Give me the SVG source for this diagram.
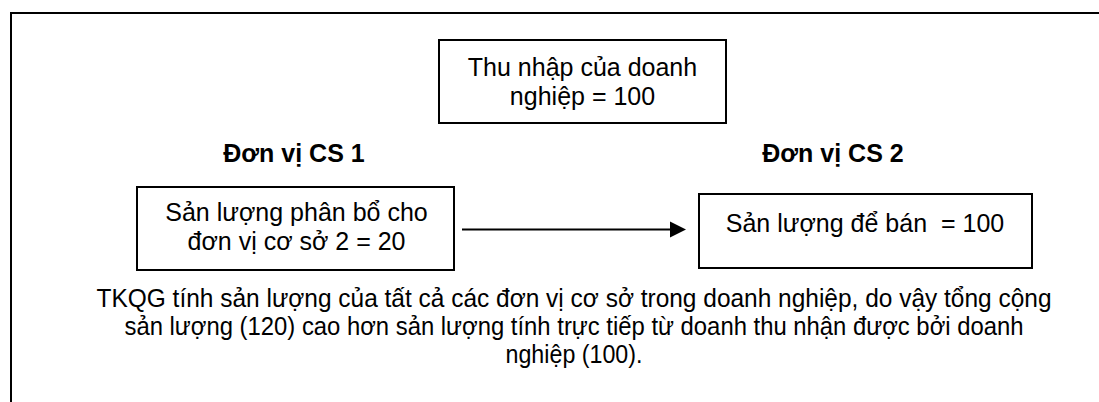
<svg xmlns="http://www.w3.org/2000/svg" width="1099" height="402" viewBox="0 0 1099 402">
  <defs>
    <style>
      .box { fill: #ffffff; stroke: #000000; stroke-width: 2; }
      .txt { font-family: "Liberation Sans", Arial, sans-serif; font-size: 25px; fill: #000000; text-anchor: middle; }
      .hdr { font-family: "Liberation Sans", Arial, sans-serif; font-size: 25px; font-weight: bold; fill: #000000; text-anchor: middle; }
      .conn { stroke: #000000; stroke-width: 2; fill: none; }
    </style>
    <marker id="arrow" markerWidth="8" markerHeight="8" refX="7.5" refY="4" orient="auto" markerUnits="userSpaceOnUse" viewBox="0 0 8 8">
      <path d="M0,0 L8,4 L0,8 Z" fill="#000000"/>
    </marker>
  </defs>

  <rect width="1099" height="402" fill="#ffffff"/>

  <!-- outer frame, open to the right and bottom -->
  <rect x="11" y="13" width="1200" height="500" fill="none" stroke="#000000" stroke-width="2"/>

  <g id="income">
    <rect class="box" x="439" y="40" width="287" height="83"/>
    <text class="txt" x="582.5" y="75.5">Thu nhập của doanh</text>
    <text class="txt" x="582.5" y="104.5">nghiệp = 100</text>
  </g>

  <g id="unit1-label">
    <text class="hdr" x="294" y="161.5">Đơn vị CS 1</text>
  </g>

  <g id="unit2-label">
    <text class="hdr" x="833" y="161.5">Đơn vị CS 2</text>
  </g>

  <g id="unit1">
    <rect class="box" x="137" y="187" width="317" height="83"/>
    <text class="txt" x="296.5" y="221">Sản lượng phân bổ cho</text>
    <text class="txt" x="296.5" y="250">đơn vị cơ sở 2 = 20</text>
  </g>

  <g id="unit2">
    <rect class="box" x="699" y="194" width="333" height="74"/>
    <text class="txt" x="865" y="232" xml:space="preserve">Sản lượng để bán  = 100</text>
  </g>

  <g id="connectors">
    <line class="conn" x1="462" y1="229.5" x2="678" y2="229.5"/>
    <path d="M670,221.5 L686,229.5 L670,237.5 Z" fill="#000000"/>
  </g>

  <g id="note">
    <text class="txt" x="574" y="307" textLength="955" lengthAdjust="spacingAndGlyphs">TKQG tính sản lượng của tất cả các đơn vị cơ sở trong doanh nghiệp, do vậy tổng cộng</text>
    <text class="txt" x="574" y="335" textLength="899" lengthAdjust="spacingAndGlyphs">sản lượng (120) cao hơn sản lượng tính trực tiếp từ doanh thu nhận được bởi doanh</text>
    <text class="txt" x="574" y="363" textLength="137" lengthAdjust="spacingAndGlyphs">nghiệp (100).</text>
  </g>
</svg>
